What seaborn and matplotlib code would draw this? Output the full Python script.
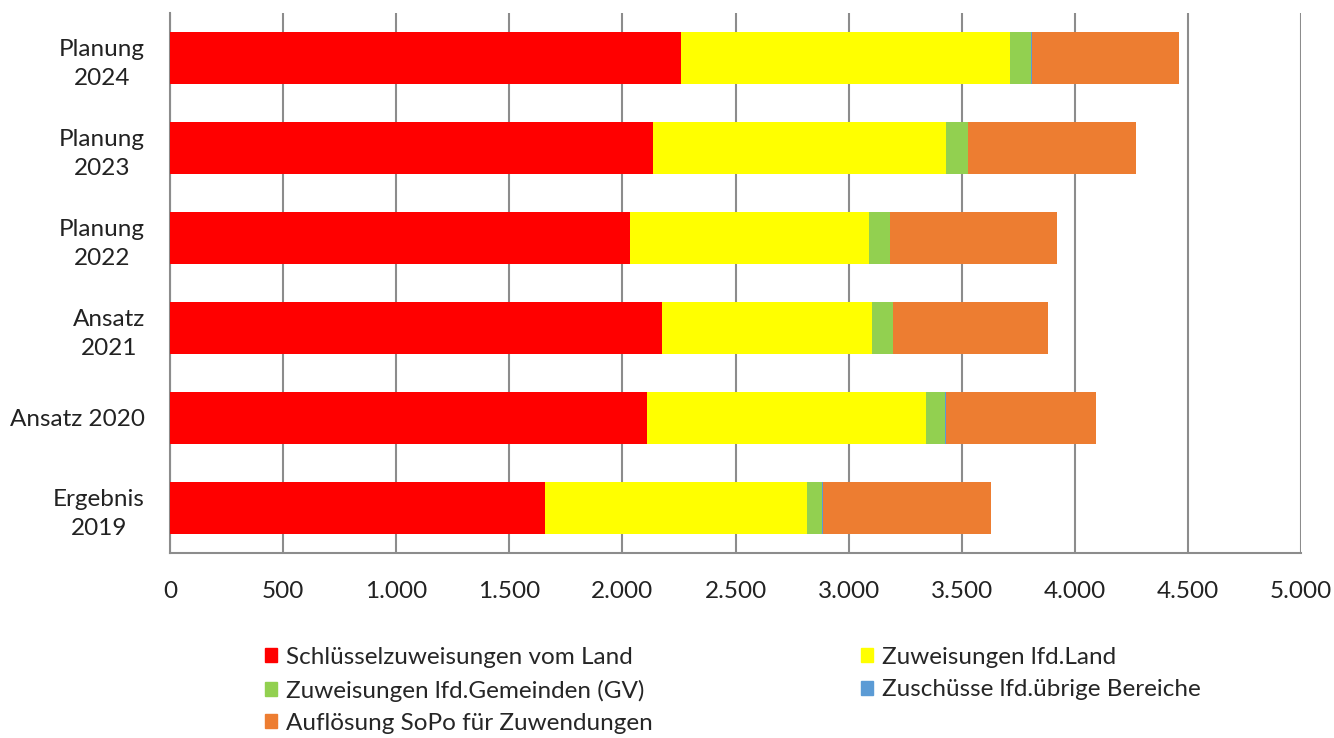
import numpy as np
import pandas as pd
import seaborn as sns
import matplotlib.pyplot as plt
from matplotlib.patches import Patch

categories = ['Planung\n2024', 'Planung\n2023', 'Planung\n2022', 'Ansatz\n2021', 'Ansatz 2020', 'Ergebnis\n2019']
schluessel = [2259, 2135, 2034, 2175, 2109, 1658]
zuw_land = [1455, 1297, 1058, 929, 1232, 1157]
zuw_gemeinden = [93, 96, 91, 91, 85, 67]
zuschuesse = [3, 0, 0, 0, 5, 6]
aufloesung = [652, 743, 737, 685, 663, 742]

series_names = ['Schlüsselzuweisungen vom Land', 'Zuweisungen lfd.Land',
                'Zuweisungen lfd.Gemeinden (GV)', 'Zuschüsse lfd.übrige Bereiche',
                'Auflösung SoPo für Zuwendungen']
colors = ['#ff0000', '#ffff00', '#92d050', '#5b9bd5', '#ed7d31']
xticks = [0, 500, 1000, 1500, 2000, 2500, 3000, 3500, 4000, 4500, 5000]
xtick_labels = ['0', '500', '1.000', '1.500', '2.000', '2.500', '3.000', '3.500', '4.000', '4.500', '5.000']

sns.set_style('white')
plt.rcParams['font.family'] = ['Lato', 'DejaVu Sans']
fs = 17.5

df = pd.DataFrame({'cat': categories})
values = [schluessel, zuw_land, zuw_gemeinden, zuschuesse, aufloesung]
cum = np.cumsum(np.array(values), axis=0)

fig = plt.figure(figsize=(13.34, 7.38), dpi=100)
ax = fig.add_axes([170 / 1334, 1 - 553 / 738, (1301 - 170) / 1334, 540 / 738])

# draw cumulative totals from the outermost segment inwards so they stack
for i in range(len(values) - 1, -1, -1):
    df['v'] = cum[i]
    sns.barplot(data=df, x='v', y='cat', orient='h', color=colors[i],
                saturation=1, width=0.57, ax=ax, zorder=3, linewidth=0)

ax.set_xlim(0, 5000)
ax.set_ylim(5.5, -0.5)
ax.set_xticks(xticks)
ax.set_xticklabels(xtick_labels)
ax.set_xlabel('')
ax.set_ylabel('')
ax.xaxis.grid(True, color='#8c8c8c', linewidth=1.5, zorder=0)
ax.set_axisbelow(True)
for side in ['top', 'right']:
    ax.spines[side].set_visible(False)
for side in ['left', 'bottom']:
    ax.spines[side].set_color('#8c8c8c')
    ax.spines[side].set_linewidth(1.5)
ax.tick_params(axis='x', length=0, pad=20, labelsize=fs, colors='#222222')
ax.tick_params(axis='y', length=0, pad=18, labelsize=fs, colors='#222222')
for lbl in ax.get_yticklabels():
    lbl.set_multialignment('center')
    lbl.set_linespacing(1.45)

handles = [Patch(color=c, label=n) for c, n in zip(colors, series_names)]
order = [0, 2, 4, 1, 3]
fig.legend([handles[i] for i in order], [series_names[i] for i in order],
           ncol=2, loc='upper left', bbox_to_anchor=(265 / 1334, 1 - 647 / 738),
           frameon=False, fontsize=fs, handlelength=0.5, handleheight=0.5,
           handletextpad=0.37, columnspacing=8.55, labelspacing=0.47,
           borderaxespad=0, borderpad=0)

fig.savefig('out.png', dpi=100)
